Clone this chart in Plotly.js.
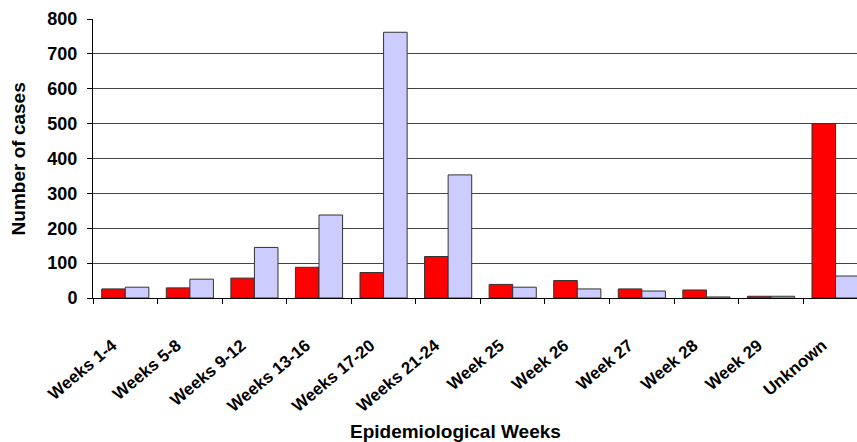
<!DOCTYPE html>
<html>
<head>
<meta charset="utf-8">
<script src="https://cdn.plot.ly/plotly-3.0.1.min.js"></script>
<style>html,body{margin:0;padding:0;background:#fff;}#chart{width:857px;height:442px;}</style>
</head>
<body>
<div id="chart"></div>
<script>
var categories = ["Weeks 1-4", "Weeks 5-8", "Weeks 9-12", "Weeks 13-16", "Weeks 17-20", "Weeks 21-24", "Week 25", "Week 26", "Week 27", "Week 28", "Week 29", "Unknown"];
var seriesRed = [26, 29, 57, 88, 73, 119, 39, 50, 26, 23, 5, 500];
var seriesBlue = [31, 54, 145, 238, 762, 353, 31, 26, 20, 3, 5, 63];
var yTickValues = [0, 100, 200, 300, 400, 500, 600, 700, 800];

var FONT = "Liberation Sans, Arial, sans-serif";

var traces = [
  {type: "bar", x: categories, y: seriesRed, name: "Series 1",
   marker: {color: "#FF0000", line: {color: "#333333", width: 1}}},
  {type: "bar", x: categories, y: seriesBlue, name: "Series 2",
   marker: {color: "#CCCCFF", line: {color: "#333333", width: 1}}}
];

var layout = {
  width: 857, height: 442,
  margin: {l: 93, r: 0, t: 19, b: 144},
  paper_bgcolor: "#ffffff", plot_bgcolor: "#ffffff",
  showlegend: false,
  barmode: "group",
  bargap: 0.27, bargroupgap: 0,
  font: {family: FONT, color: "#000000"},
  xaxis: {
    type: "category",
    range: [-0.5, 11.332],
    tickson: "boundaries",
    ticks: "outside", ticklen: 5, tickcolor: "#000000",
    ticklabelstandoff: 30,
    ticklabelshift: -13,
    showline: true, linecolor: "#000000", linewidth: 1,
    showgrid: false, zeroline: false,
    tickangle: -40,
    tickfont: {family: FONT, size: 17, color: "#000000", weight: "bold"}
  },
  yaxis: {
    range: [0, 800],
    tickvals: yTickValues,
    ticktext: yTickValues.map(String),
    ticks: "outside", ticklen: 5, tickcolor: "#000000",
    ticklabelstandoff: 6,
    showline: true, linecolor: "#000000", linewidth: 1,
    showgrid: true, gridcolor: "#444444", gridwidth: 1,
    zeroline: false,
    tickfont: {family: FONT, size: 18, color: "#000000", weight: "bold"}
  },
  annotations: [
    {text: "<b>Epidemiological Weeks</b>", xref: "paper", yref: "paper",
     x: 0.474, y: -0.478, xanchor: "center", yanchor: "middle", showarrow: false,
     font: {family: FONT, size: 19, color: "#000000"}},
    {text: "<b>Number of cases</b>", xref: "paper", yref: "paper",
     x: -0.097, y: 0.5, xanchor: "center", yanchor: "middle", showarrow: false, textangle: -90,
     font: {family: FONT, size: 19, color: "#000000"}}
  ]
};

Plotly.newPlot("chart", traces, layout, {displayModeBar: false, staticPlot: true});
</script>
</body>
</html>
